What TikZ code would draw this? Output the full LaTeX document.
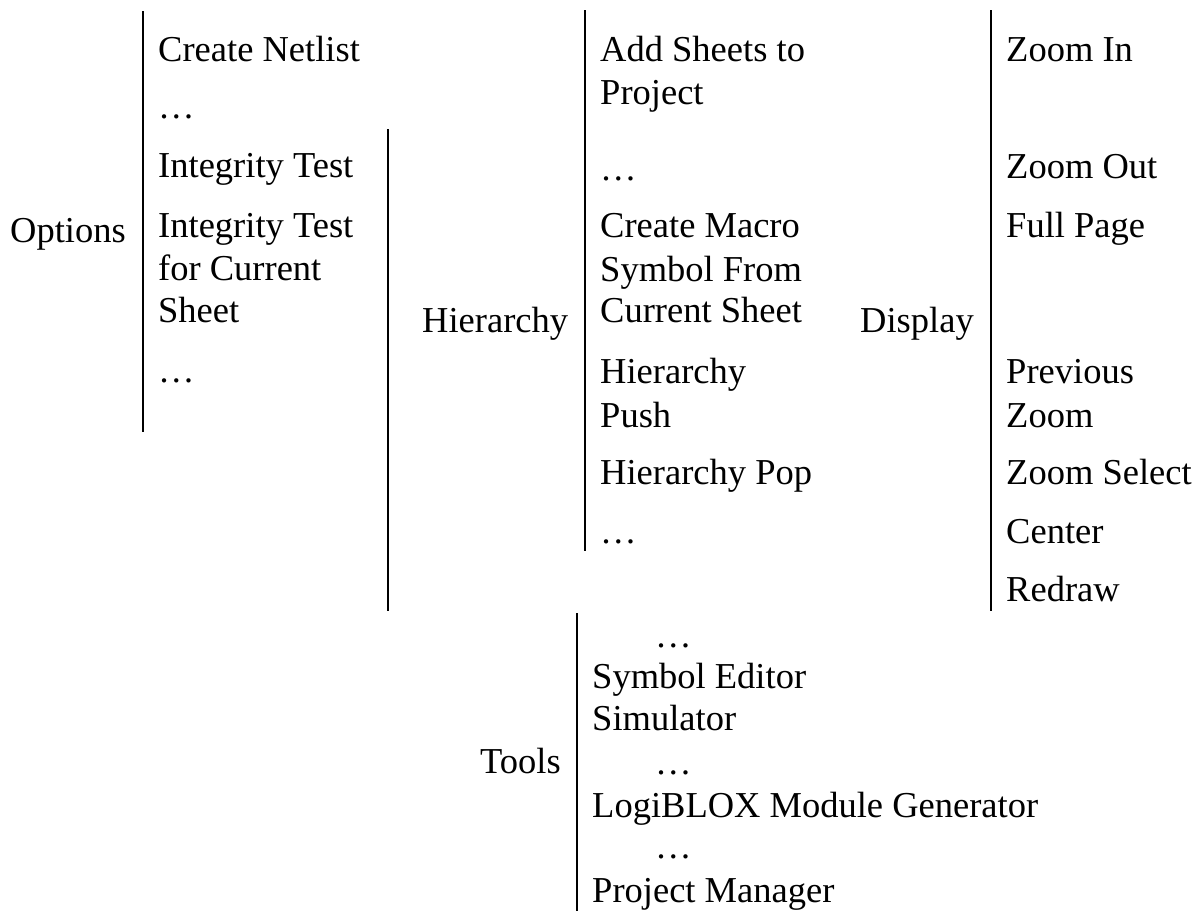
\documentclass[tikz,border=0pt]{standalone}
\usepackage{fontspec}
\setmainfont{Liberation Serif}
\begin{document}
\begin{tikzpicture}[x=1pt,y=-1pt,
  txt/.style={anchor=base west, inner sep=0pt, font=\fontsize{36.5}{43}\selectfont},
  bar/.style={line width=2pt, line cap=butt}]
\useasboundingbox (0,0) rectangle (1199,911);
% headings
\node[txt] (options) at (10,242) {Options};
\node[txt] (hier) at (422,332) {Hierarchy};
\node[txt] (display) at (860,332) {Display};
\node[txt] (tools) at (480,773) {Tools};
% Options items
\node[txt] (o1) at (158,61) {Create Netlist};
\node[txt] (o2) at (158,118) {…};
\node[txt] (o3) at (158,177) {Integrity Test};
\node[txt] (o4a) at (158,237) {Integrity Test};
\node[txt] (o4b) at (158,280) {for Current};
\node[txt] (o4c) at (158,322) {Sheet};
\node[txt] (o5) at (158,382) {…};
% Hierarchy items
\node[txt] (h1a) at (600,61) {Add Sheets to};
\node[txt] (h1b) at (600,104) {Project};
\node[txt] (h2) at (600,180) {…};
\node[txt] (h3a) at (600,237) {Create Macro};
\node[txt] (h3b) at (600,281) {Symbol From};
\node[txt] (h3c) at (600,322) {Current Sheet};
\node[txt] (h4a) at (600,383) {Hierarchy};
\node[txt] (h4b) at (600,427) {Push};
\node[txt] (h5) at (600,484) {Hierarchy Pop};
\node[txt] (h6) at (600,543) {…};
% Display items
\node[txt] (d1) at (1006,61) {Zoom In};
\node[txt] (d2) at (1006,178) {Zoom Out};
\node[txt] (d3) at (1006,237) {Full Page};
\node[txt] (d4a) at (1006,383) {Previous};
\node[txt] (d4b) at (1006,427) {Zoom};
\node[txt] (d5) at (1006,484) {Zoom Select};
\node[txt] (d6) at (1006,543) {Center};
\node[txt] (d7) at (1006,601) {Redraw};
% Tools items
\node[txt] (t1) at (655,647) {…};
\node[txt] (t2) at (592,688) {Symbol Editor};
\node[txt] (t3) at (592,730) {Simulator};
\node[txt] (t4) at (655,774) {…};
\node[txt] (t5) at (592,817) {LogiBLOX Module Generator};
\node[txt] (t6) at (655,858) {…};
\node[txt] (t7) at (592,902) {Project Manager};
% bars
\coordinate (b1t) at (143,11);  \coordinate (b1b) at (143,432);
\coordinate (b2t) at (388,129); \coordinate (b2b) at (388,611);
\coordinate (b3t) at (585,10);  \coordinate (b3b) at (585,551);
\coordinate (b4t) at (991,10);  \coordinate (b4b) at (991,611);
\coordinate (b5t) at (577,613); \coordinate (b5b) at (577,911);
\draw[bar] (b1t) -- (b1b);
\draw[bar] (b2t) -- (b2b);
\draw[bar] (b3t) -- (b3b);
\draw[bar] (b4t) -- (b4b);
\draw[bar] (b5t) -- (b5b);
\end{tikzpicture}
\end{document}
